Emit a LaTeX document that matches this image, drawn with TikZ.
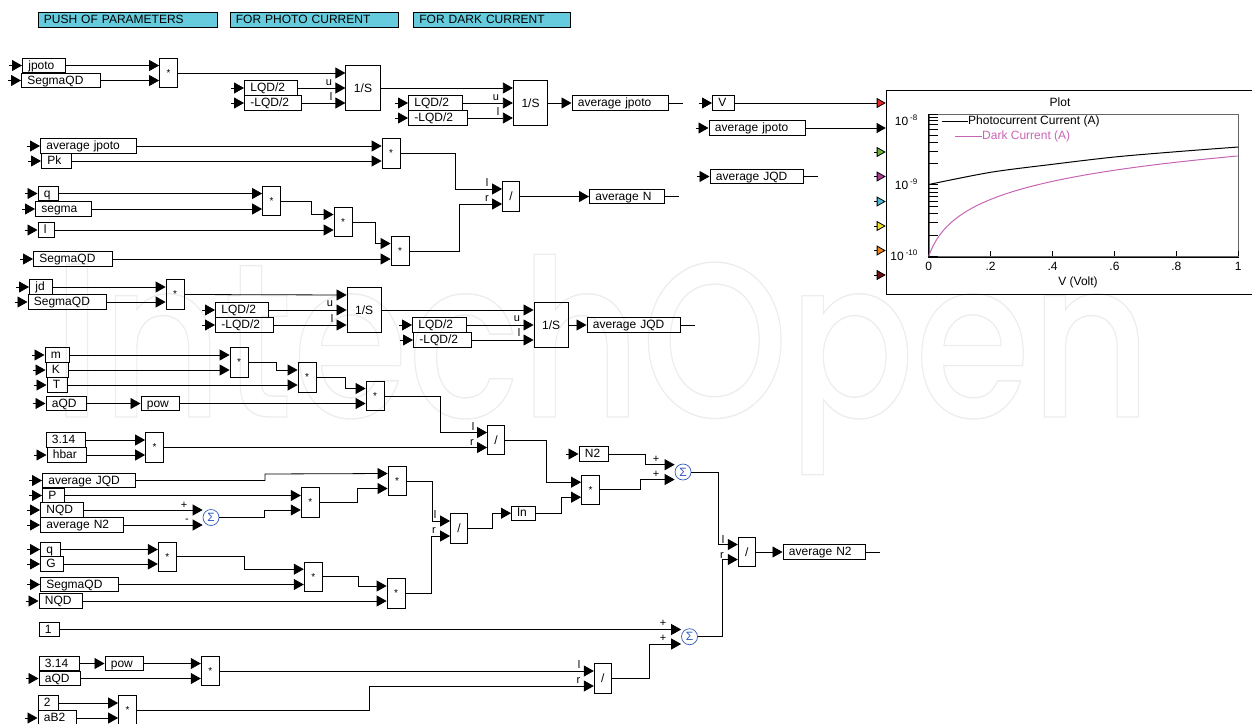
\documentclass[tikz,border=0pt]{standalone}
\usepackage{fontspec}
\setmainfont{Liberation Sans}
\newfontfamily\wmfont{Poppins Medium}
\usetikzlibrary{arrows.meta, calc}
\definecolor{hdrcyan}{RGB}{102,204,221}
\definecolor{sumblue}{RGB}{50,90,190}
\definecolor{darkcur}{RGB}{199,101,181}
\definecolor{pRed}{RGB}{230,40,40}
\definecolor{pGreen}{RGB}{110,180,60}
\definecolor{pPurple}{RGB}{170,60,150}
\definecolor{pCyan}{RGB}{80,185,215}
\definecolor{pYellow}{RGB}{240,225,40}
\definecolor{pOrange}{RGB}{240,130,30}
\definecolor{pBrown}{RGB}{110,15,20}

\begin{document}
\begin{tikzpicture}[
    x=1pt, y=-1pt,
    blk/.style={draw,anchor=west,line width=0.8pt,inner xsep=6pt,inner ysep=2pt,
                text width=#1,align=left,text height=9pt,text depth=1.5pt,
                font=\fontsize{12}{12}\selectfont},
    hdr/.style={blk=#1,fill=hdrcyan},
    mul/.style={draw,line width=0.8pt,minimum width=18pt,minimum height=29.5pt,
                inner sep=0pt,font=\fontsize{10}{10}\selectfont},
    dvd/.style={mul,minimum width=17pt,font=\fontsize{12}{12}\selectfont},
    intg/.style={draw,line width=0.8pt,minimum width=34.5pt,minimum height=44.5pt,
                inner sep=0pt,font=\fontsize{12}{12}\selectfont},
    sm/.style={draw=sumblue,text=sumblue,circle,line width=0.7pt,minimum size=16pt,
                inner sep=0pt,font=\fontsize{12}{12}\selectfont},
    wire/.style={line width=0.8pt,-{Triangle[length=10pt,width=11pt]}},
    lin/.style={line width=0.8pt},
    lb/.style={inner sep=0pt,font=\fontsize{11}{11}\selectfont},
    tk/.style={inner sep=0pt,font=\fontsize{12}{12}\selectfont}
  ]
    \clip (0,0) rectangle (1252,723);

    %% Watermark ──────────────────────────────
    \node[anchor=base west,inner sep=0pt,xscale=0.85,font=\wmfont\fontsize{220}{220}\selectfont] (wm) at (52,417)
        {\special{pdf:code q 1 Tr 1.4 w 0.93 G}IntechOpen\special{pdf:code Q}};

    %% Headers ────────────────────────────────
    \node[hdr=167pt] (hPush) at (37.5,20) {PUSH OF PARAMETERS};
    \node[hdr=156pt] (hPhoto) at (229.5,20) {FOR PHOTO CURRENT};
    \node[hdr=145pt] (hDark) at (413,20) {FOR DARK CURRENT};

    %% Photo current ──────────────────────────
    \node[blk=31pt] (jpotoA) at (22,65.5) {jpoto};
    \node[blk=66.5pt] (segA) at (21,80.5) {SegmaQD};
    \node[mul] (mulA) at (168.5,73) {*};
    \node[intg] (intA) at (363,88) {1/S};
    \node[blk=40.5pt] (lqdA) at (244,88) {LQD/2};
    \node[blk=45pt] (nlqdA) at (244,103) {-LQD/2};
    \node[intg] (intB) at (530.5,103) {1/S};
    \node[blk=42pt] (lqdB) at (408,103) {LQD/2};
    \node[blk=46.5pt] (nlqdB) at (408,118) {-LQD/2};
    \node[blk=84pt] (avgJp) at (571.5,103) {average jpoto};
    \draw[wire] (jpotoA.east) -- (jpotoA -| mulA.west);
    \draw[wire] (segA.east) -- (segA -| mulA.west);
    \draw[wire] (mulA.east) -- ([yshift=15pt]intA.west);
    \draw[wire] (lqdA.east) -- (intA.west);
    \draw[wire] (nlqdA.east) -- ([yshift=-15pt]intA.west);
    \node[lb] (uA) at (329,83) {u};
    \node[lb] (lA) at (331,97) {l};
    \draw[wire] (intA.east) -- ([yshift=15pt]intB.west);
    \draw[wire] (lqdB.east) -- (intB.west);
    \draw[wire] (nlqdB.east) -- ([yshift=-15pt]intB.west);
    \node[lb] (uB) at (496,98) {u};
    \node[lb] (lB) at (498,112) {l};
    \draw[wire] (intB.east) -- (avgJp.west);

    %% Average N ──────────────────────────────
    \node[blk=83.5pt] (avgJpB) at (40,146) {average jpoto};
    \node[blk=18pt] (pk) at (41,161) {Pk};
    \node[mul] (mulB) at (391,153.5) {*};
    \node[blk=8pt] (qA) at (37.5,193.5) {q};
    \node[blk=43.5pt] (segmaA) at (35,209) {segma};
    \node[mul] (mulC) at (271.5,201) {*};
    \node[blk=4pt] (lenA) at (37.5,230) {l};
    \node[mul] (mulD) at (343,222) {*};
    \node[blk=66.5pt] (segB) at (33,259) {SegmaQD};
    \node[mul] (mulE) at (400,251) {*};
    \node[dvd] (divA) at (511,196.5) {/};
    \node[blk=63pt] (avgN) at (589,196.5) {average N};
    \draw[wire] (avgJpB.east) -- (avgJpB -| mulB.west);
    \draw[wire] (pk.east) -- (pk -| mulB.west);
    \draw[wire] (qA.east) -- (qA -| mulC.west);
    \draw[wire] (segmaA.east) -- (segmaA -| mulC.west);
    \draw[wire] (mulC.east) -| (311,214.5) -- ([yshift=7.5pt]mulD.west);
    \draw[wire] (lenA.east) -- (lenA -| mulD.west);
    \draw[wire] (mulD.east) -| (375,243.5) -- ([yshift=7.5pt]mulE.west);
    \draw[wire] (segB.east) -- (segB -| mulE.west);
    \draw[wire] (mulB.east) -| (455,189) -- ([yshift=7.5pt]divA.west);
    \draw[wire] (mulE.east) -| (459.5,204) -- ([yshift=-7.5pt]divA.west);
    \node[lb] (lC) at (487,183) {l};
    \node[lb] (rC) at (487,199) {r};
    \draw[wire] (divA.east) -- (avgN.west);

    %% Plot inputs ────────────────────────────
    \node[blk=10pt] (volt) at (712,103) {V};
    \node[blk=84pt] (avgJpC) at (708.5,128) {average jpoto};
    \node[blk=81pt] (avgJqC) at (709.5,176.5) {average JQD};

    %% Plot ───────────────────────────────────
    \node[draw,line width=0.8pt,anchor=north west,minimum width=400pt,minimum height=204pt,inner sep=0pt] (plotFr) at (885.7,90.3) {};
    \node[tk] (plotT) at (1060,102) {Plot};
    \draw[wire,-{Triangle[length=9pt,width=10pt,fill=pRed]}] (volt.east) -- (volt -| plotFr.west);
    \draw[wire,-{Triangle[length=9pt,width=10pt]}] (avgJpC.east) -- (avgJpC -| plotFr.west);
    \foreach \pcol/\py/\pn in {pGreen/152/pa,pPurple/176.5/pb,pCyan/201.5/pc,pYellow/226/pd,pOrange/250.5/pe,pBrown/275/pf}{
      \coordinate (\pn) at (874,\py);
      \draw[lin,-{Triangle[length=9pt,width=10pt,fill=\pcol]}] (\pn) -- (\pn -| plotFr.west);
    }
    \node[draw=black!60,line width=0.8pt,anchor=north west,minimum width=309.6pt,minimum height=142.3pt,inner sep=0pt] (axBox) at (928.7,114) {};
    \draw[line width=0.9pt] (axBox.north west) -- (axBox.south west) -- (axBox.south east);
    \foreach \dec in {256.3,184.8}{
      \foreach \m in {1,...,9}{
        \pgfmathsetmacro{\yy}{\dec-71*log10(\m)}
        \draw[lin] (928.7,\yy) -- ++(9,0);
      }
    }
    \draw[lin] (928.7,114) -- ++(9,0);
    \foreach \xf/\xl in {0/0,0.2/.2,0.4/.4,0.6/.6,0.8/.8,1/1}{
      \pgfmathsetmacro{\xx}{928.7+309.6*\xf}
      \draw[lin] (\xx,256.3) -- ++(0,-5);
      \node[tk,anchor=base] at (\xx,270) {\xl};
    }
    \node[tk] (xLab) at (1078,282) {V (Volt)};
    \node[tk,anchor=base east] (yA) at (918,125) {10\,\textsuperscript{-8}};
    \node[tk,anchor=base east] (yB) at (918,189) {10\,\textsuperscript{-9}};
    \node[tk,anchor=base east] (yC) at (918,260) {10\,\textsuperscript{-10}};
    \draw[line width=1pt] plot[smooth] coordinates {(928.7,184.5) (990.6,172.3) (1052.5,164.3) (1114.5,157) (1176.4,151.7) (1238.3,147)};
    \draw[darkcur,line width=1pt] plot[smooth,domain=0:1,samples=120] ({928.7+309.6*\x^1.6},{256.3-67.3*log10(1+30*\x^1.6)});
    \draw[lin] (941.7,121) -- (968,121);
    \node[tk,anchor=west] (legA) at (968,121) {Photocurrent Current (A)};
    \draw[darkcur,lin] (955,136) -- (982,136);
    \node[tk,anchor=west,text=darkcur] (legB) at (982,136) {Dark Current (A)};

    %% Dark current ───────────────────────────
    \node[blk=11pt] (jd) at (29,287) {jd};
    \node[blk=66.5pt] (segC) at (27.5,302) {SegmaQD};
    \node[mul] (mulF) at (175,294.5) {*};
    \node[intg] (intC) at (364.2,310) {1/S};
    \node[blk=41pt] (lqdC) at (215,310) {LQD/2};
    \node[blk=46pt] (nlqdC) at (215,325) {-LQD/2};
    \node[intg] (intD) at (551.2,325) {1/S};
    \node[blk=41.5pt] (lqdD) at (412,325) {LQD/2};
    \node[blk=45.5pt] (nlqdD) at (413,340) {-LQD/2};
    \node[blk=81pt] (avgJq) at (586.5,325) {average JQD};
    \draw[wire] (jd.east) -- (jd -| mulF.west);
    \draw[wire] (segC.east) -- (segC -| mulF.west);
    \draw[wire] (mulF.east) -- ([yshift=15pt]intC.west);
    \draw[wire] (lqdC.east) -- (intC.west);
    \draw[wire] (nlqdC.east) -- ([yshift=-15pt]intC.west);
    \node[lb] (uC) at (330,304) {u};
    \node[lb] (lD) at (332,319) {l};
    \draw[wire] (intC.east) -- ([yshift=15pt]intD.west);
    \draw[wire] (lqdD.east) -- (intD.west);
    \draw[wire] (nlqdD.east) -- ([yshift=-15pt]intD.west);
    \node[lb] (uD) at (517,319) {u};
    \node[lb] (lE) at (519,333) {l};
    \draw[wire] (intD.east) -- (avgJq.west);

    %% N2, upper half ─────────────────────────
    \node[blk=12pt] (mm) at (44.5,355) {m};
    \node[blk=10pt] (kk) at (45.5,370) {K};
    \node[blk=8pt] (tt) at (46.5,385) {T};
    \node[blk=28.5pt] (aqdA) at (45.5,403.5) {aQD};
    \node[blk=26pt] (powA) at (140.5,403.5) {pow};
    \node[mul] (mulG) at (239,362.5) {*};
    \node[mul] (mulH) at (307,377.5) {*};
    \node[mul] (mulI) at (375,396) {*};
    \node[blk=27.5pt] (piA) at (45.5,440) {3.14};
    \node[blk=27.5pt] (hbar) at (46.5,455) {hbar};
    \node[mul] (mulJ) at (154.5,447.5) {*};
    \node[dvd] (divB) at (496,440) {/};
    \draw[wire] (mm.east) -- (mm -| mulG.west);
    \draw[wire] (kk.east) -- (kk -| mulG.west);
    \draw[wire] (mulG.east) -| (276,370) -- ([yshift=7.5pt]mulH.west);
    \draw[wire] (tt.east) -- (tt -| mulH.west);
    \draw[wire] (mulH.east) -| (345,388.5) -- ([yshift=7.5pt]mulI.west);
    \draw[wire] (aqdA.east) -- (powA.west);
    \draw[wire] (powA.east) -- (powA -| mulI.west);
    \draw[wire] (piA.east) -- (piA -| mulJ.west);
    \draw[wire] (hbar.east) -- (hbar -| mulJ.west);
    \draw[wire] (mulI.east) -| (440,432.5) -- ([yshift=7.5pt]divB.west);
    \draw[wire] (mulJ.east) -- ([yshift=-7.5pt]divB.west);
    \node[lb] (lF) at (473,427) {l};
    \node[lb] (rF) at (472,443) {r};

    %% N2, lower half ─────────────────────────
    \node[blk=80.5pt] (avgJqB) at (42,480.5) {average JQD};
    \node[blk=10pt] (pp) at (42,495.5) {P};
    \node[blk=31pt] (nqdA) at (40,510) {NQD};
    \node[blk=70.5pt] (avgN2A) at (40,525) {average N2};
    \node[sm] (sumA) at (211,517.5) {Σ};
    \node[mul] (mulK) at (310.2,502.5) {*};
    \node[mul] (mulL) at (397,481) {*};
    \node[blk=8pt] (qB) at (40,549.5) {q};
    \node[blk=11pt] (gg) at (40,564) {G};
    \node[blk=66pt] (segD) at (40,584.5) {SegmaQD};
    \node[blk=31pt] (nqdB) at (38.5,601) {NQD};
    \node[mul] (mulM) at (167.2,556.7) {*};
    \node[mul] (mulN) at (313.2,576.7) {*};
    \node[mul] (mulO) at (396,593.5) {*};
    \node[dvd] (divC) at (459,528.5) {/};
    \node[blk=11.5pt] (lnA) at (511,513.2) {ln};
    \draw[wire] (avgJqB.east) -| (265,474) -- ([yshift=7.5pt]mulL.west);
    \draw[wire] (pp.east) -- (pp -| mulK.west);
    \draw[wire] (nqdA.east) -- ([yshift=7.5pt]sumA.west);
    \draw[wire] (avgN2A.east) -- ([yshift=-7.5pt]sumA.west);
    \node[lb] (pA) at (184,505) {+};
    \node[lb] (mA) at (187,521) {-};
    \draw[wire] (sumA.east) -| (264,510) -- ([yshift=-7.5pt]mulK.west);
    \draw[wire] (mulK.east) -| (357.5,488.5) -- ([yshift=-7.5pt]mulL.west);
    \draw[wire] (qB.east) -- (qB -| mulM.west);
    \draw[wire] (gg.east) -- (gg -| mulM.west);
    \draw[wire] (mulM.east) -| (244,569.2) -- ([yshift=7.5pt]mulN.west);
    \draw[wire] (segD.east) -- (segD -| mulN.west);
    \draw[wire] (mulN.east) -| (358.5,586) -- ([yshift=7.5pt]mulO.west);
    \draw[wire] (nqdB.east) -- (nqdB -| mulO.west);
    \draw[wire] (mulL.east) -| (432,521) -- ([yshift=7.5pt]divC.west);
    \draw[wire] (mulO.east) -| (431,536) -- ([yshift=-7.5pt]divC.west);
    \node[lb] (lG) at (435,515) {l};
    \node[lb] (rG) at (434,531) {r};
    \draw[wire] (divC.east) -| (492.5,513.2) -- (lnA.west);

    %% Final stage ────────────────────────────
    \node[blk=17.5pt] (n2) at (578.5,454) {N2};
    \node[mul] (mulP) at (590.5,489.7) {*};
    \node[sm] (sumB) at (683,472) {Σ};
    \node[dvd] (divD) at (746.7,552) {/};
    \node[blk=70pt] (avgN2B) at (782.5,552) {average N2};
    \draw[wire] (divB.east) -| (546,482.2) -- ([yshift=7.5pt]mulP.west);
    \draw[wire] (lnA.east) -| (561.5,497.2) -- ([yshift=-7.5pt]mulP.west);
    \draw[wire] (n2.east) -| (645.5,464.7) -- ([yshift=7.3pt]sumB.west);
    \draw[wire] (mulP.east) -| (640.5,479.5) -- ([yshift=-7.5pt]sumB.west);
    \node[lb] (pB) at (656,459.5) {+};
    \node[lb] (pC) at (656,474) {+};
    \draw[wire] (sumB.east) -| (718.5,544.5) -- ([yshift=7.5pt]divD.west);
    \draw[wire] (divD.east) -- (avgN2B.west);
    \node[lb] (lH) at (723,540) {l};
    \node[lb] (rH) at (722,556) {r};

    \node[blk=8pt] (one) at (38.5,629.5) {1};
    \node[blk=28pt] (piB) at (38.5,663.5) {3.14};
    \node[blk=26pt] (powB) at (104.5,663.5) {pow};
    \node[blk=29pt] (aqdB) at (38.5,678.5) {aQD};
    \node[mul] (mulQ) at (210.2,671) {*};
    \node[blk=8pt] (two) at (37.5,703) {2};
    \node[blk=26pt] (ab2) at (37.5,718) {aB2};
    \node[mul] (mulR) at (127.5,710.5) {*};
    \node[dvd] (divE) at (602.7,678.5) {/};
    \node[sm] (sumC) at (689.5,636.7) {Σ};
    \draw[wire] (one.east) -- ([yshift=7.2pt]sumC.west);
    \draw[wire] (piB.east) -- (powB.west);
    \draw[wire] (powB.east) -- (powB -| mulQ.west);
    \draw[wire] (aqdB.east) -- (aqdB -| mulQ.west);
    \draw[wire] (two.east) -- (two -| mulR.west);
    \draw[wire] (ab2.east) -- (ab2 -| mulR.west);
    \draw[wire] (mulQ.east) -- ([yshift=7.5pt]divE.west);
    \draw[wire] (mulR.east) -| (369.5,686) -- ([yshift=-7.5pt]divE.west);
    \draw[wire] (divE.east) -| (649.5,644) -- ([yshift=-7.3pt]sumC.west);
    \draw[wire] (sumC.east) -| (722,559.5) -- ([yshift=-7.5pt]divD.west);
    \node[lb] (lI) at (579,665) {l};
    \node[lb] (rI) at (578.5,681) {r};
    \node[lb] (pD) at (663,623) {+};
    \node[lb] (pE) at (663,638) {+};

    %% Stubs ──────────────────────────────────
    \foreach \n in {jpotoA,segA,lqdA,nlqdA,lqdB,nlqdB,volt,avgJpC,avgJqC,avgJpB,pk,qA,segmaA,lenA,segB,
                    jd,segC,lqdC,nlqdC,lqdD,nlqdD,mm,kk,tt,aqdA,hbar,avgJqB,pp,nqdA,avgN2A,qB,gg,segD,nqdB,n2,aqdB,ab2}{
      \coordinate (\n-in) at ([xshift=-13pt]\n.west);
      \draw[wire] (\n-in) -- (\n.west);
    }
    \foreach \n in {avgJp,avgN,avgJq,avgN2B,avgJqC}{
      \coordinate (\n-out) at ([xshift=14.5pt]\n.east);
      \draw[lin] (\n.east) -- (\n-out);
    }
\end{tikzpicture}
\end{document}
